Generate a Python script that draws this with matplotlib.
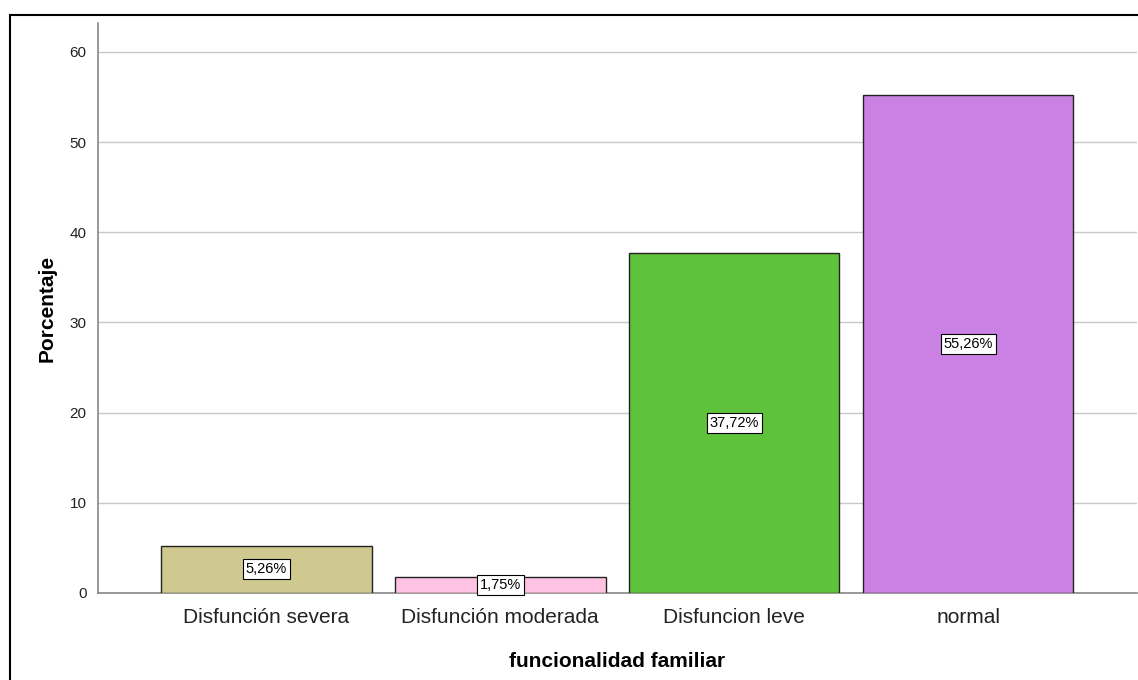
import numpy as np
import matplotlib.pyplot as plt
from matplotlib.patches import Rectangle

plt.rcParams['font.family'] = ['Liberation Sans', 'DejaVu Sans']

categorias = ['Disfunción severa', 'Disfunción moderada', 'Disfuncion leve', 'normal']
porcentajes = [5.26, 1.75, 37.72, 55.26]
colores = ['#D0C98F', '#FFC2E2', '#5EC23A', '#CB80E4']
etiquetas = ['5,26%', '1,75%', '37,72%', '55,26%']
yticks = [0, 10, 20, 30, 40, 50, 60]

fig = plt.figure(figsize=(11.38, 6.8), dpi=100)
ax = fig.add_axes([97.5 / 1138, 1 - 593 / 680, (1137 - 97.5) / 1138, (593 - 23) / 680])

x = np.arange(len(categorias))
ax.bar(x, porcentajes, width=0.9, color=colores, edgecolor='#222222', linewidth=1, zorder=3)

for xi, v, t in zip(x, porcentajes, etiquetas):
    ax.text(xi, v / 2, t, ha='center', va='center', fontsize=10.5, zorder=4,
            bbox=dict(boxstyle='square,pad=0.2', facecolor='white', edgecolor='black', linewidth=0.8))

ax.set_xlim(-0.722, 3.722)
ax.set_ylim(0, 63.2)
ax.set_yticks(yticks)
ax.set_xticks(x)
ax.set_xticklabels(categorias, fontsize=15, color='#222222')
ax.tick_params(axis='y', length=0, labelsize=11, pad=8, labelcolor='#222222')
ax.tick_params(axis='x', length=0, pad=11)
ax.yaxis.grid(True, color='#C8C8C8', linewidth=1, zorder=0)

for s in ['top', 'right']:
    ax.spines[s].set_visible(False)
for s in ['left', 'bottom']:
    ax.spines[s].set_color('#888888')
    ax.spines[s].set_linewidth(1.2)

ax.set_xlabel('funcionalidad familiar', fontsize=15, fontweight='bold', labelpad=18)
ax.set_ylabel('Porcentaje', fontsize=15, fontweight='bold', labelpad=9)

# marco exterior
fig.patches.append(Rectangle((10 / 1138, -0.1), 2, (680 - 15) / 680 + 0.1,
                             transform=fig.transFigure, fill=False,
                             edgecolor='black', linewidth=1.5))

fig.savefig('out.png', dpi=100)
